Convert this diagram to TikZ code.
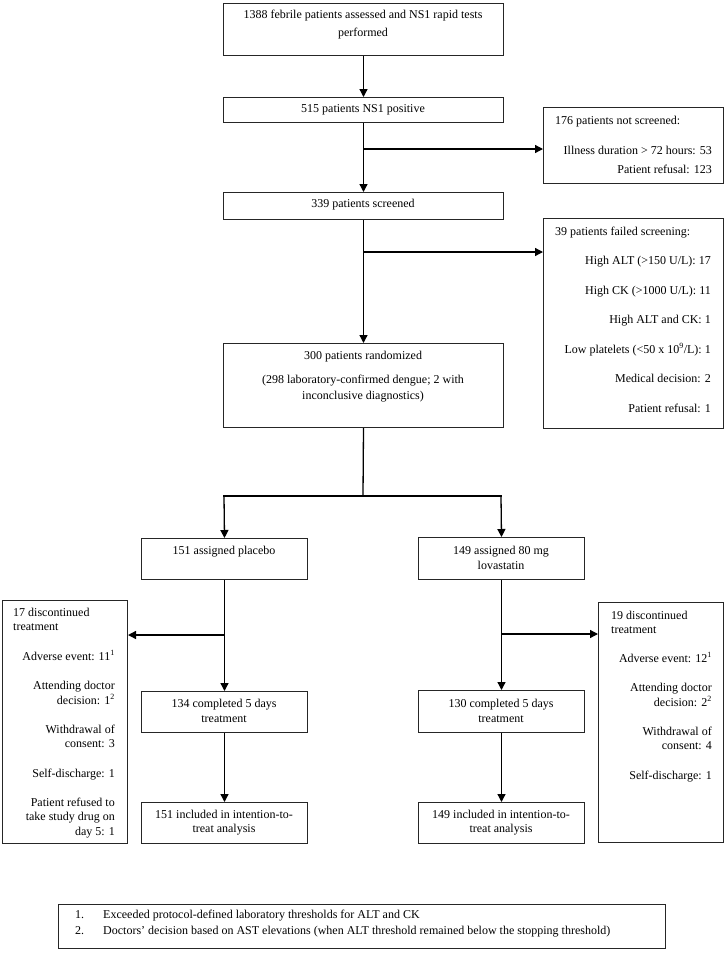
\documentclass[tikz,border=0pt]{standalone}
\usepackage{fontspec}
\setmainfont{Liberation Serif}
\usetikzlibrary{arrows.meta}
\tikzset{
  box/.style={draw=black!85, line width=1pt, anchor=north west, inner sep=0pt},
  conn/.style={draw=black, line width=1.3pt, -{Triangle[length=8pt,width=8pt]}},
  plain/.style={draw=black, line width=1.3pt},
  txt/.style={inner sep=0pt, font=\fontsize{12}{14}\selectfont, anchor=mid},
  txtl/.style={txt, anchor=mid west},
  txtr/.style={txt, anchor=mid east},
}
\begin{document}
\begin{tikzpicture}[x=1pt,y=-1pt]
\useasboundingbox[fill=white] (0,0) rectangle (725,959);
% boxes
\node[box, minimum width=280, minimum height=52] (b1) at (223,3) {};
\node[box, minimum width=280, minimum height=25] (b2) at (223,97) {};
\node[box, minimum width=280, minimum height=27] (b3) at (223,192) {};
\node[box, minimum width=180, minimum height=76] (b176) at (543,107) {};
\node[box, minimum width=180, minimum height=210] (b39) at (543,218) {};
\node[box, minimum width=280, minimum height=84] (b4) at (223,343) {};
\node[box, minimum width=166, minimum height=41] (b151) at (141,538) {};
\node[box, minimum width=166, minimum height=42] (b149) at (418,537) {};
\node[box, minimum width=125, minimum height=243] (b17) at (2,600) {};
\node[box, minimum width=125, minimum height=240] (b19) at (598,602) {};
\node[box, minimum width=166, minimum height=41] (b134) at (141,691) {};
\node[box, minimum width=166, minimum height=42] (b130) at (418,690) {};
\node[box, minimum width=166, minimum height=41] (b151i) at (141,802) {};
\node[box, minimum width=166, minimum height=41] (b149i) at (418,802) {};
\node[box, minimum width=607, minimum height=44] (fn) at (58,904) {};
% texts
\node[txt] (t1a) at (363,16) {1388 febrile patients assessed and NS1 rapid tests};
\node[txt] (t1b) at (363,34) {performed};
\node[txt] (t2) at (363,110) {515 patients NS1 positive};
\node[txt] (t3) at (363,205) {339 patients screened};
\node[txtl] (t176a) at (555,122) {176 patients not screened:};
\node[txtr] (t176b) at (712,152) {Illness duration > 72 hours: 53};
\node[txtr] (t176c) at (712,171) {Patient refusal: 123};
\node[txtl] (t39a) at (555,233) {39 patients failed screening:};
\node[txtr] (t39b) at (711,262) {High ALT (>150 U/L): 17};
\node[txtr] (t39c) at (711,292) {High CK (>1000 U/L): 11};
\node[txtr] (t39d) at (711,321) {High ALT and CK: 1};
\node[txtr] (t39e) at (711,351) {Low platelets (<50 x 10\textsuperscript{9}/L): 1};
\node[txtr] (t39f) at (711,380) {Medical decision: 2};
\node[txtr] (t39g) at (711,410) {Patient refusal: 1};
\node[txt] (t4a) at (363,357) {300 patients randomized};
\node[txt] (t4b) at (363,381) {(298 laboratory-confirmed dengue; 2 with};
\node[txt] (t4c) at (363,397) {inconclusive diagnostics)};
\node[txt] (t151) at (224,552) {151 assigned placebo};
\node[txt] (t149a) at (501,552) {149 assigned 80 mg};
\node[txt] (t149b) at (501,567) {lovastatin};
\node[txtl] (t17a) at (13,614) {17 discontinued};
\node[txtl] (t17b) at (13,628) {treatment};
\node[txtr] (t17c) at (115,658) {Adverse event: 11\textsuperscript{1}};
\node[txtr] (t17d) at (115,687) {Attending doctor};
\node[txtr] (t17e) at (115,702) {decision: 1\textsuperscript{2}};
\node[txtr] (t17f) at (115,731) {Withdrawal of};
\node[txtr] (t17g) at (115,745) {consent: 3};
\node[txtr] (t17h) at (115,775) {Self-discharge: 1};
\node[txtr] (t17i) at (115,804) {Patient refused to};
\node[txtr] (t17j) at (115,818) {take study drug on};
\node[txtr] (t17k) at (115,833) {day 5: 1};
\node[txtl] (t19a) at (611,617) {19 discontinued};
\node[txtl] (t19b) at (611,631) {treatment};
\node[txtr] (t19c) at (712,660) {Adverse event: 12\textsuperscript{1}};
\node[txtr] (t19d) at (712,689) {Attending doctor};
\node[txtr] (t19e) at (712,704) {decision: 2\textsuperscript{2}};
\node[txtr] (t19f) at (712,733) {Withdrawal of};
\node[txtr] (t19g) at (712,747) {consent: 4};
\node[txtr] (t19h) at (712,777) {Self-discharge: 1};
\node[txt] (t134a) at (224,705) {134 completed 5 days};
\node[txt] (t134b) at (224,720) {treatment};
\node[txt] (t130a) at (501,705) {130 completed 5 days};
\node[txt] (t130b) at (501,720) {treatment};
\node[txt] (t151ia) at (224,816) {151 included in intention-to-};
\node[txt] (t151ib) at (224,830) {treat analysis};
\node[txt] (t149ia) at (501,816) {149 included in intention-to-};
\node[txt] (t149ib) at (501,830) {treat analysis};
\node[txtl] (fn1n) at (75,916) {1.};
\node[txtl] (fn1) at (103,916) {Exceeded protocol-defined laboratory thresholds for ALT and CK};
\node[txtl] (fn2n) at (75,932) {2.};
\node[txtl] (fn2) at (103,932) {Doctors’ decision based on AST elevations (when ALT threshold remained below the stopping threshold)};
% connectors
\coordinate (br1) at (363,149);
\coordinate (br2) at (363,252);
\coordinate (sp) at (363,496);
\coordinate (spL) at (224,496);
\coordinate (spR) at (501,496);
\coordinate (br3) at (224,635);
\coordinate (br4) at (501,634);
\draw[conn] (b1.south) -- (b2.north);
\draw[conn] (b2.south) -- (b3.north);
\draw[conn] (br1) -- (br1 -| b176.west);
\draw[conn] (b3.south) -- (b4.north);
\draw[conn] (br2) -- (br2 -| b39.west);
\draw[plain] (b4.south) -- (sp);
\draw[plain, line cap=rect] (spL) -- (spR);
\draw[conn] (spL) -- (b151.north);
\draw[conn] (spR) -- (b149.north);
\draw[conn] (b151.south) -- (b134.north);
\draw[conn] (br3) -- (br3 -| b17.east);
\draw[conn] (b134.south) -- (b151i.north);
\draw[conn] (b149.south) -- (b130.north);
\draw[conn] (br4) -- (br4 -| b19.west);
\draw[conn] (b130.south) -- (b149i.north);
\end{tikzpicture}
\end{document}
